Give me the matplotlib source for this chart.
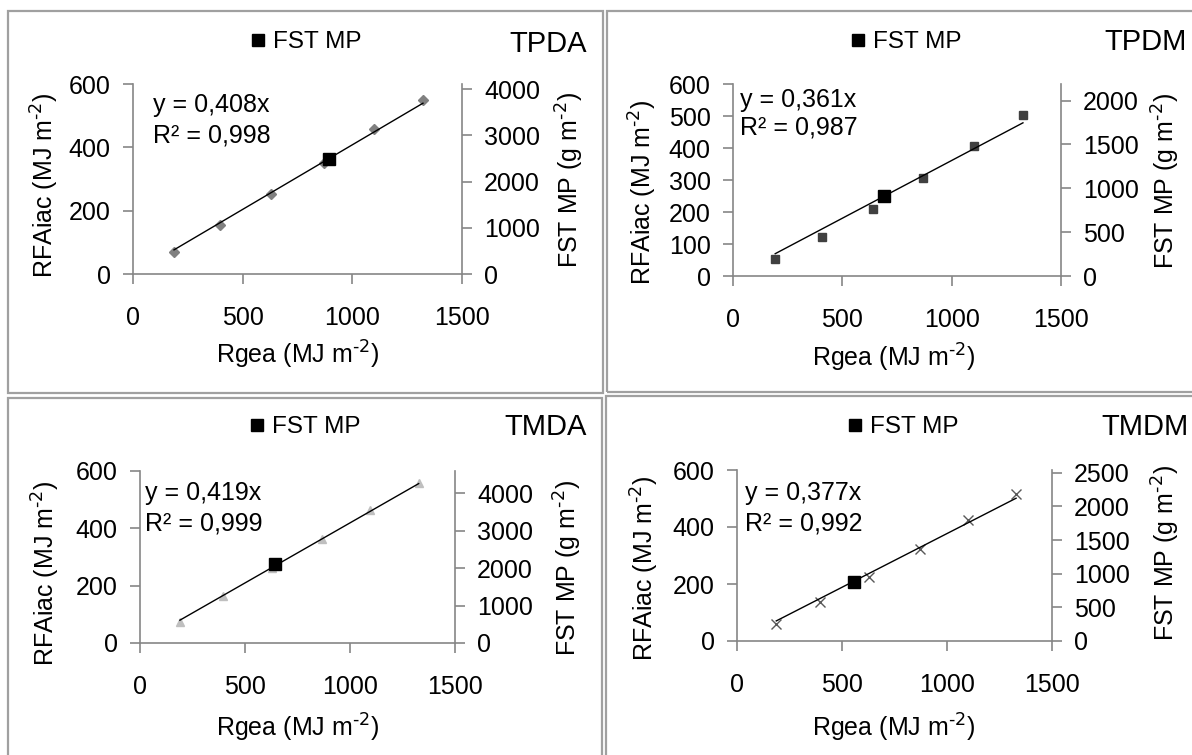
import matplotlib
matplotlib.use('Agg')
import matplotlib.pyplot as plt
from matplotlib.patches import Rectangle

plt.rcParams['font.family'] = ['Liberation Sans', 'DejaVu Sans']
plt.rcParams['mathtext.default'] = 'regular'
plt.rcParams['font.size'] = 18

W, H = 1192, 755

# data
rgea_tpda = [187, 397, 631, 871, 1098, 1322]
rfa_tpda = [68, 154, 254, 352, 457, 551]
fst_tpda = (895, 2490)

rgea_tpdm = [193, 405, 638, 869, 1104, 1326]
rfa_tpdm = [53, 123, 210, 305, 406, 502]
fst_tpdm = (692, 916)

rgea_tmda = [190, 397, 629, 868, 1097, 1327]
rfa_tmda = [73, 163, 262, 362, 464, 557]
fst_tmda = (643, 2107)

rgea_tmdm = [187, 397, 629, 871, 1099, 1329]
rfa_tmdm = [61, 136, 223, 322, 423, 516]
fst_tmdm = (557, 876)

grey = '#868686'


def fx(x):
    return x / W


def fy(y):
    return 1 - y / H


# layout in pixels
panels = [
    dict(name='TPDA', x=rgea_tpda, y=rfa_tpda, fst=fst_tpda, slope=0.408, r2='0,998',
         frame=(8, 11, 603, 393), ax=(133, 462, 84, 274), lstep=200, rtop=4115, rstep=1000, rmax=4000,
         marker='D', mc='#808080', ms=5, eq=(153, 105, 136), leg=(258, 42), title=(587, 44),
         yl=(45, 185), yr=(570, 180), xl=(298, 355)),
    dict(name='TPDM', x=rgea_tpdm, y=rfa_tpdm, fst=fst_tpdm, slope=0.361, r2='0,987',
         frame=(607, 11, 1196, 392), ax=(733, 1061, 84, 276), lstep=100, rtop=2190, rstep=500, rmax=2000,
         marker='s', mc='#404040', ms=5.5, eq=(740, 100, 128), leg=(858, 42), title=(1187, 42),
         yl=(643, 192), yr=(1166, 181), xl=(894, 358)),
    dict(name='TMDA', x=rgea_tmda, y=rfa_tmda, fst=fst_tmda, slope=0.419, r2='0,999',
         frame=(8, 398, 602, 760), ax=(140, 455, 471, 643), lstep=200, rtop=4600, rstep=1000, rmax=4000,
         marker='^', mc='#bfbfbf', ms=6, eq=(145, 493, 523), leg=(257, 427), title=(587, 427),
         yl=(46, 573), yr=(568, 568), xl=(298, 728)),
    dict(name='TMDM', x=rgea_tmdm, y=rfa_tmdm, fst=fst_tmdm, slope=0.377, r2='0,992',
         frame=(606, 396, 1196, 760), ax=(737, 1052, 470, 641), lstep=200, rtop=2540, rstep=500, rmax=2500,
         marker='x', mc='#595959', ms=6.5, eq=(745, 493, 523), leg=(855, 427), title=(1189, 427),
         yl=(645, 568), yr=(1166, 553), xl=(894, 728)),
]

fig = plt.figure(figsize=(W / 100, H / 100), dpi=100)

for p in panels:
    x0, y0, x1, y1 = p['frame']
    fig.add_artist(Rectangle((fx(x0), fy(y1)), (x1 - x0) / W, (y1 - y0) / H,
                             transform=fig.transFigure, fill=False, ec='#a0a0a0', lw=1.6))

    l, r, t, b = p['ax']
    ax = fig.add_axes([fx(l), fy(b), (r - l) / W, (b - t) / H])
    ax.set_facecolor('none')
    ax.plot(p['x'], p['y'], linestyle='none', marker=p['marker'], color=p['mc'],
            ms=p['ms'], mew=1)
    xs = [min(p['x']), max(p['x'])]
    ax.plot(xs, [p['slope'] * v for v in xs], color='black', lw=1)
    ax.set_xlim(0, 1500)
    ax.set_ylim(0, 600)
    ax.set_xticks([0, 500, 1000, 1500])
    ax.set_yticks(list(range(0, 601, p['lstep'])))
    for s in ['top', 'right']:
        ax.spines[s].set_visible(False)
    for s in ['left', 'bottom']:
        ax.spines[s].set_color(grey)
        ax.spines[s].set_linewidth(1.2)
    ax.tick_params(axis='both', direction='out', length=7, width=1.2, color=grey)
    ax.tick_params(axis='x', pad=16)
    ax.tick_params(axis='y', pad=9)
    ax.set_ylabel(r'RFAiac (MJ m$^{\text{-2}}$)')
    ax.yaxis.set_label_coords(fx(p['yl'][0]), fy(p['yl'][1]), transform=fig.transFigure)
    ax.yaxis.label.set_va('center')
    ax.yaxis.label.set_ha('center')
    ax.set_xlabel(r'Rgea (MJ m$^{\text{-2}}$)')
    ax.xaxis.set_label_coords(fx(p['xl'][0]), fy(p['xl'][1]), transform=fig.transFigure)
    ax.xaxis.label.set_va('center')

    ax2 = ax.twinx()
    ax2.plot([p['fst'][0]], [p['fst'][1]], linestyle='none', marker='s', color='black',
             ms=9, label='FST MP')
    ax2.set_ylim(0, p['rtop'])
    ax2.set_yticks(list(range(0, p['rmax'] + 1, p['rstep'])))
    for s in ['top', 'left', 'bottom']:
        ax2.spines[s].set_visible(False)
    ax2.spines['right'].set_color(grey)
    ax2.spines['right'].set_linewidth(1.2)
    ax2.tick_params(axis='y', direction='out', length=7, width=1.2, color=grey, pad=9)
    ax2.set_ylabel(r'FST MP (g m$^{\text{-2}}$)')
    ax2.yaxis.set_label_coords(fx(p['yr'][0]), fy(p['yr'][1]), transform=fig.transFigure)
    ax2.yaxis.label.set_va('center')
    ax2.yaxis.label.set_ha('center')

    lx, ly = p['leg']
    ax2.legend(loc='center left', bbox_to_anchor=(fx(lx - 7), fy(ly)), bbox_transform=fig.transFigure,
               frameon=False, borderpad=0, borderaxespad=0, handlelength=0.6, handletextpad=0.3,
               markerscale=0.9, fontsize=17.5)

    ex, ey1, ey2 = p['eq']
    fig.text(fx(ex), fy(ey1), 'y = %sx' % ('%.3f' % p['slope']).replace('.', ','), ha='left', va='center')
    fig.text(fx(ex), fy(ey2), 'R² = ' + p['r2'], ha='left', va='center')

    tx, ty = p['title']
    fig.text(fx(tx), fy(ty), p['name'], ha='right', va='center', fontsize=21)

fig.savefig('out.png', dpi=100)
